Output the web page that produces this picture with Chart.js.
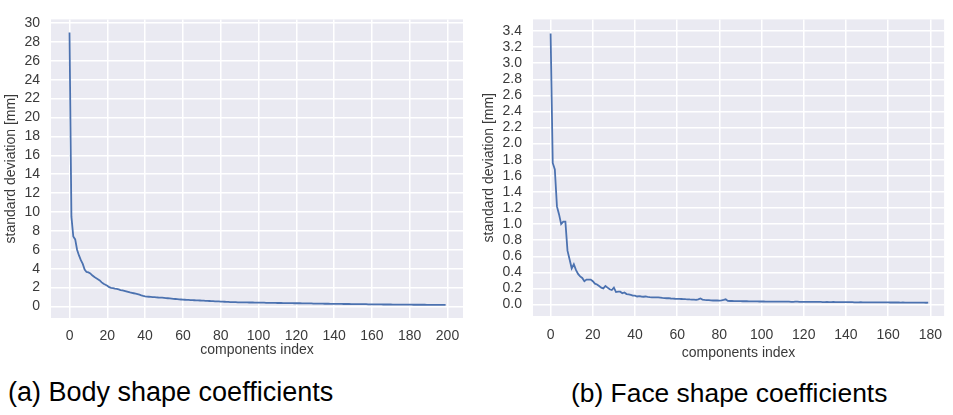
<!DOCTYPE html>
<html>
<head>
<meta charset="utf-8">
<script src="https://cdn.jsdelivr.net/npm/chart.js@4.4.1/dist/chart.umd.min.js"></script>
<style>
  body { margin: 0; background: #fff; width: 953px; height: 415px; overflow: hidden; position: relative; font-family: "Liberation Sans", Arial, sans-serif; }
  canvas { position: absolute; top: 0; }
  #bodyChart { left: 0; }
  #faceChart { left: 477px; }
  .caption { position: absolute; top: 377px; font-size: 27px; color: #000; white-space: nowrap; }
</style>
</head>
<body>
<canvas id="bodyChart" width="470" height="359"></canvas>
<canvas id="faceChart" width="476" height="362"></canvas>
<div class="caption" style="left:8px">(a) Body shape coefficients</div>
<div class="caption" style="left:571px; font-size:26.4px; top:377.5px">(b) Face shape coefficients</div>
<script>
// standard deviation per component (index = component)
const bodyStd = [
    29.0, 9.5, 7.4, 7.1, 6.0, 5.4, 4.9, 4.5, 3.9, 3.65,
    3.6, 3.5, 3.3, 3.15, 3.0, 2.88, 2.75, 2.55, 2.4, 2.3,
    2.2, 2.05, 1.98, 1.94, 1.89, 1.85, 1.80, 1.74, 1.70, 1.66,
    1.60, 1.54, 1.48, 1.44, 1.40, 1.36, 1.31, 1.25, 1.18, 1.12,
    1.07, 1.05, 1.03, 1.01, 0.99, 0.98, 0.97, 0.95, 0.94, 0.93,
    0.91, 0.89, 0.87, 0.85, 0.83, 0.81, 0.79, 0.77, 0.75, 0.74,
    0.72, 0.71, 0.70, 0.69, 0.68, 0.67, 0.66, 0.65, 0.64, 0.63,
    0.62, 0.61, 0.60, 0.59, 0.58, 0.57, 0.56, 0.55, 0.54, 0.53,
    0.52, 0.51, 0.50, 0.49, 0.48, 0.47, 0.46, 0.45, 0.45, 0.44,
    0.44, 0.44, 0.43, 0.43, 0.43, 0.42, 0.42, 0.42, 0.41, 0.41,
    0.41, 0.40, 0.40, 0.40, 0.39, 0.39, 0.39, 0.38, 0.38, 0.38,
    0.37, 0.37, 0.37, 0.36, 0.36, 0.36, 0.35, 0.35, 0.35, 0.34,
    0.34, 0.34, 0.34, 0.33, 0.33, 0.33, 0.32, 0.32, 0.32, 0.31,
    0.31, 0.31, 0.30, 0.30, 0.30, 0.29, 0.29, 0.29, 0.28, 0.28,
    0.28, 0.27, 0.27, 0.27, 0.27, 0.26, 0.26, 0.26, 0.26, 0.25,
    0.25, 0.25, 0.25, 0.24, 0.24, 0.24, 0.24, 0.24, 0.23, 0.23,
    0.23, 0.23, 0.22, 0.22, 0.22, 0.22, 0.21, 0.21, 0.21, 0.21,
    0.21, 0.20, 0.20, 0.20, 0.20, 0.20, 0.19, 0.19, 0.19, 0.19,
    0.19, 0.19, 0.18, 0.18, 0.18, 0.18, 0.18, 0.18, 0.18, 0.17,
    0.17, 0.17, 0.17, 0.17, 0.17, 0.17, 0.16, 0.16, 0.16, 0.16
];

const faceStd = [
    3.37, 1.76, 1.68, 1.22, 1.12, 1.00, 1.03, 1.03, 0.67, 0.56,
    0.45, 0.50, 0.43, 0.38, 0.35, 0.33, 0.29, 0.31, 0.31, 0.31,
    0.29, 0.26, 0.25, 0.23, 0.21, 0.20, 0.23, 0.21, 0.19, 0.18,
    0.21, 0.155, 0.16, 0.16, 0.14, 0.15, 0.13, 0.125, 0.12, 0.11,
    0.11, 0.10, 0.105, 0.10, 0.097, 0.10, 0.095, 0.092, 0.09, 0.089,
    0.088, 0.09, 0.087, 0.082, 0.08, 0.078, 0.079, 0.075, 0.074, 0.072,
    0.071, 0.07, 0.069, 0.068, 0.066, 0.065, 0.063, 0.062, 0.06, 0.058,
    0.065, 0.075, 0.062, 0.058, 0.056, 0.055, 0.052, 0.05, 0.051, 0.05,
    0.049, 0.052, 0.058, 0.065, 0.045, 0.044, 0.044, 0.043, 0.043, 0.042,
    0.042, 0.041, 0.041, 0.041, 0.040, 0.040, 0.040, 0.039, 0.039, 0.038,
    0.038, 0.038, 0.037, 0.037, 0.037, 0.036, 0.036, 0.036, 0.036, 0.035,
    0.035, 0.035, 0.036, 0.035, 0.034, 0.034, 0.035, 0.035, 0.034, 0.034,
    0.034, 0.033, 0.034, 0.033, 0.033, 0.032, 0.032, 0.033, 0.032, 0.031,
    0.031, 0.032, 0.031, 0.031, 0.033, 0.031, 0.030, 0.030, 0.030, 0.030,
    0.029, 0.029, 0.030, 0.029, 0.028, 0.028, 0.028, 0.029, 0.028, 0.027,
    0.027, 0.028, 0.027, 0.027, 0.027, 0.026, 0.026, 0.027, 0.026, 0.026,
    0.026, 0.025, 0.025, 0.026, 0.025, 0.025, 0.024, 0.025, 0.024, 0.024,
    0.024, 0.024, 0.023, 0.024, 0.023, 0.023, 0.023, 0.023, 0.022, 0.023
];

// tick labels
const bodyXTicks = [0, 20, 40, 60, 80, 100, 120, 140, 160, 180, 200];
const bodyYTicks = [0, 2, 4, 6, 8, 10, 12, 14, 16, 18, 20, 22, 24, 26, 28, 30];
const faceXTicks = [0, 20, 40, 60, 80, 100, 120, 140, 160, 180];
const faceYTicks = [0.0, 0.2, 0.4, 0.6, 0.8, 1.0, 1.2, 1.4, 1.6, 1.8, 2.0, 2.2, 2.4, 2.6, 2.8, 3.0, 3.2, 3.4];

const xTitle = 'components index';
const yTitle = 'standard deviation [mm]';

// seaborn darkgrid look: grey plot area behind white grid
const plotBackground = {
    id: 'plotBackground',
    beforeDraw(chart) {
        const a = chart.chartArea;
        chart.ctx.save();
        chart.ctx.fillStyle = '#EAEAF2';
        chart.ctx.fillRect(a.left, a.top, a.right - a.left, a.bottom - a.top);
        chart.ctx.restore();
    }
};

Chart.defaults.font.family = '"Liberation Sans", Arial, sans-serif';
Chart.defaults.color = '#3a3a3a';

function makeChart(canvasId, values, xTicks, yTicks, opts) {
    const points = values.map((v, i) => ({ x: i, y: v }));
    return new Chart(document.getElementById(canvasId), {
        type: 'line',
        data: {
            datasets: [{
                data: points,
                borderColor: '#4C72B0',
                borderWidth: 1.8,
                pointRadius: 0,
                tension: 0,
                fill: false
            }]
        },
        options: {
            responsive: false,
            animation: false,
            layout: { padding: opts.padding },
            plugins: { legend: { display: false }, tooltip: { enabled: false } },
            scales: {
                x: {
                    type: 'linear',
                    min: opts.xMin,
                    max: opts.xMax,
                    afterBuildTicks: axis => { axis.ticks = xTicks.map(v => ({ value: v })); },
                    afterFit: axis => { axis.height = opts.xHeight; },
                    grid: { color: '#ffffff', lineWidth: 1.5, drawTicks: false },
                    border: { display: false },
                    ticks: { font: { size: 14 }, padding: opts.xPad, maxRotation: 0, autoSkip: false },
                    title: { display: true, text: xTitle, font: { size: 14 }, padding: { top: 0, bottom: 0 } }
                },
                y: {
                    type: 'linear',
                    min: opts.yMin,
                    max: opts.yMax,
                    afterBuildTicks: axis => { axis.ticks = yTicks.map(v => ({ value: v })); },
                    afterFit: axis => { axis.width = opts.yWidth; },
                    grid: { color: '#ffffff', lineWidth: 1.5, drawTicks: false },
                    border: { display: false },
                    ticks: {
                        font: { size: 14 },
                        padding: 11,
                        autoSkip: false,
                        callback: v => opts.decimals ? v.toFixed(opts.decimals) : String(v)
                    },
                    title: { display: true, text: yTitle, font: { size: 14 }, padding: { top: opts.yTitlePad, bottom: 0 } }
                }
            }
        },
        plugins: [plotBackground]
    });
}

makeChart('bodyChart', bodyStd, bodyXTicks, bodyYTicks, {
    padding: { top: 10, right: 7, left: 0, bottom: 0 },
    xMin: -9.8, xMax: 208.2, yMin: -1.22, yMax: 30.38,
    xHeight: 41, yWidth: 51, xPad: 10, yTitlePad: 3, decimals: 0
});

makeChart('faceChart', faceStd, faceXTicks, faceYTicks, {
    padding: { top: 1, right: 0, left: 0, bottom: 0 },
    xMin: -8.35, xMax: 186.54, yMin: -0.1425, yMax: 3.544,
    xHeight: 46, yWidth: 56, xPad: 11, yTitlePad: 4, decimals: 1
});
</script>
</body>
</html>
